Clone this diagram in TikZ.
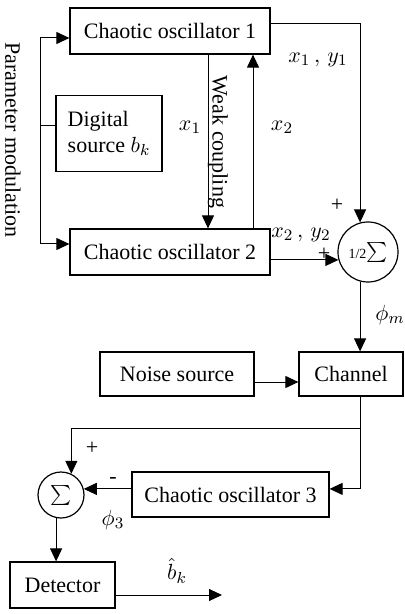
\documentclass[tikz,border=0pt]{standalone}
\usepackage{fontspec}
\setmainfont{Liberation Serif}
\usetikzlibrary{arrows.meta}
\begin{document}
\begin{tikzpicture}[x=0.5pt,y=-0.5pt,font=\fontsize{11}{13}\selectfont,>={Triangle[length=6.5pt,width=6pt]},
 block/.style={draw,line width=0.6pt,minimum height=23pt,inner sep=2pt},
 summer/.style={draw,line width=0.6pt,circle,inner sep=0pt},
 flow/.style={->,line width=0.5pt}, plain/.style={line width=0.5pt}]
\useasboundingbox (0,0) rectangle (404,614);
\node[block,minimum width=100pt] (osc1) at (170,31) {Chaotic oscillator 1};
\node[block,minimum width=53pt,minimum height=38pt,align=left] (digital) at (109,133.5) {Digital\\source $b_k$};
\node[block,minimum width=100pt] (osc2) at (170,252) {Chaotic oscillator 2};
\node[summer,minimum size=30pt] (sumA) at (368,252) {{\scriptsize 1/2}{\large$\sum$}};
\node[block,minimum width=77pt,minimum height=22pt] (noise) at (177,374) {Noise source};
\node[block,minimum width=52pt,minimum height=22pt] (channel) at (351,374) {Channel};
\node[block,minimum width=98.5pt,minimum height=22.5pt] (osc3) at (230.5,494.5) {Chaotic oscillator 3};
\node[summer,minimum size=23pt] (sumB) at (61,495) {\large$\sum$};
\node[block,minimum width=52.5pt,minimum height=23pt] (detector) at (62.5,585) {Detector};
% labels
\node[rotate=-90] (pmod) at (13,140) {Parameter modulation};
\node[rotate=-90] (weak) at (218,142) {Weak coupling};
\node (lx1) at (190,127) {$x_1$};
\node (lx2) at (282,127) {$x_2$};
\node (lx1y1) at (318,60) {$x_1\,,\,y_1$};
\node[inner sep=1pt] (lx2y2) at (301,235) {$x_2\,,\,y_2$};
\node (plusA) at (337,205) {+};
\node[inner sep=1pt] (plusB) at (324,254) {+};
\node (phim) at (390,315) {$\phi_m$};
\node (plusC) at (92,448) {+};
\node (minus) at (113,480) {-};
\node (phi3) at (113,520) {$\phi_3$};
\node (bhat) at (177,571) {$\hat{b}_k$};
% connectors
\coordinate (pm) at (40,126);
\coordinate (br) at (360,428);
\coordinate (bk) at (222,595);
\draw[plain] (digital.west |- pm) -- (pm);
\draw[flow] (pm) |- ([yshift=-3.5pt]osc1.west);
\draw[flow] (pm) |- ([yshift=4pt]osc2.west);
\draw[flow] ([xshift=19pt]osc1.south) -- ([xshift=19pt]osc2.north);
\draw[flow] ([xshift=41.5pt]osc2.north) -- ([xshift=41.5pt]osc1.south);
\draw[flow] ([yshift=3.5pt]osc1.east) -| (sumA.105);
\draw[flow] (sumA.195 -| osc2.east) -- (sumA.195);
\draw[flow] (sumA.255) -- (sumA.255 |- channel.north);
\draw[flow] ([yshift=-4pt]noise.east) -- ([yshift=-4pt]noise.east -| channel.west);
\draw[plain] (br |- channel.south) -- (br);
\draw[flow] (br) -| (sumB.64);
\draw[flow] (br) |- (sumB.15 -| osc3.east);
\draw[flow] (sumB.15 -| osc3.west) -- (sumB.15);
\draw[flow] (sumB.258) -- (sumB.258 |- detector.north);
\draw[flow] (detector.east |- bk) -- (bk);
\end{tikzpicture}
\end{document}
